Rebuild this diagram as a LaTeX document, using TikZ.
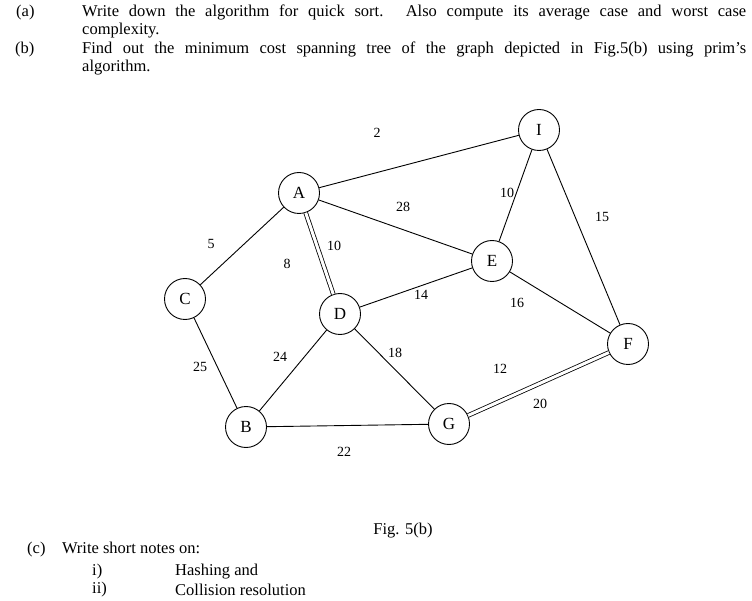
\documentclass[tikz,border=0pt]{standalone}
\usepackage{fontspec}
\setmainfont{Liberation Serif}
\begin{document}
\begin{tikzpicture}[x=1pt,y=-1pt,
  vtx/.style={circle,draw,line width=0.9pt,minimum size=41pt,inner sep=0pt,font=\fontsize{17}{17}\selectfont},
  edge/.style={draw,line width=0.9pt},
  dbl/.style={draw,double,double distance=3pt,line width=0.8pt},
  wt/.style={font=\fontsize{14}{14}\selectfont,inner sep=1pt},
  txt/.style={font=\fontsize{16.5}{17.5}\selectfont,inner sep=0pt,anchor=north west}]
\useasboundingbox (0,0) rectangle (752,601);
\node[txt] (la) at (16,5) {(a)};
\node[txt,text width=664pt,align=justify] (ta) at (82,5) {Write down the algorithm for quick sort. Also compute its average case and worst case\linebreak complexity.};
\node[txt] (lb) at (15,42) {(b)};
\node[txt,text width=664pt,align=justify] (tb) at (82,42) {Find out the minimum cost spanning tree of the graph depicted in Fig.5(b) using prim's\linebreak algorithm.};
\node[vtx] (A) at (299,193) {A};
\node[vtx] (C) at (185,299) {C};
\node[vtx] (D) at (340,314) {D};
\node[vtx] (B) at (246,427) {B};
\node[vtx] (G) at (449,424) {G};
\node[vtx] (E) at (492,261) {E};
\node[vtx] (I) at (539,130) {I};
\node[vtx] (F) at (628,344) {F};
\draw[edge] (A) -- (I);
\draw[edge] (A) -- (E);
\draw[edge] (A) -- (C);
\draw[dbl] (A) -- (D);
\draw[edge] (C) -- (B);
\draw[edge] (D) -- (E);
\draw[edge] (D) -- (B);
\draw[edge] (D) -- (G);
\draw[edge] (B) -- (G);
\draw[edge] (I) -- (E);
\draw[edge] (I) -- (F);
\draw[edge] (E) -- (F);
\draw[dbl] (G) -- (F);
\node[wt] (w2) at (377,133) {2};
\node[wt] (w28) at (403,207) {28};
\node[wt] (w10a) at (507,193) {10};
\node[wt] (w15) at (602,217) {15};
\node[wt] (w5) at (211,244) {5};
\node[wt] (w10) at (334,246) {10};
\node[wt] (w8) at (287,264) {8};
\node[wt] (w14) at (421,295) {14};
\node[wt] (w16) at (517,303) {16};
\node[wt] (w25) at (200,367) {25};
\node[wt] (w24) at (280,357) {24};
\node[wt] (w18) at (395,353) {18};
\node[wt] (w12) at (500,369) {12};
\node[wt] (w20) at (540,404) {20};
\node[wt] (w22) at (344,452) {22};
\node[txt,anchor=center] (fig) at (403,531) {Fig. 5(b)};
\node[txt,anchor=west] (lc) at (27,550) {(c)\quad Write short notes on:};
\node[txt,anchor=west] (r1) at (92,572) {i)};
\node[txt,anchor=west] (h1) at (175,572) {Hashing and};
\node[txt,anchor=west] (r2) at (92,590) {ii)};
\node[txt,anchor=west] (h2) at (175,590) {Collision resolution};
\end{tikzpicture}
\end{document}
